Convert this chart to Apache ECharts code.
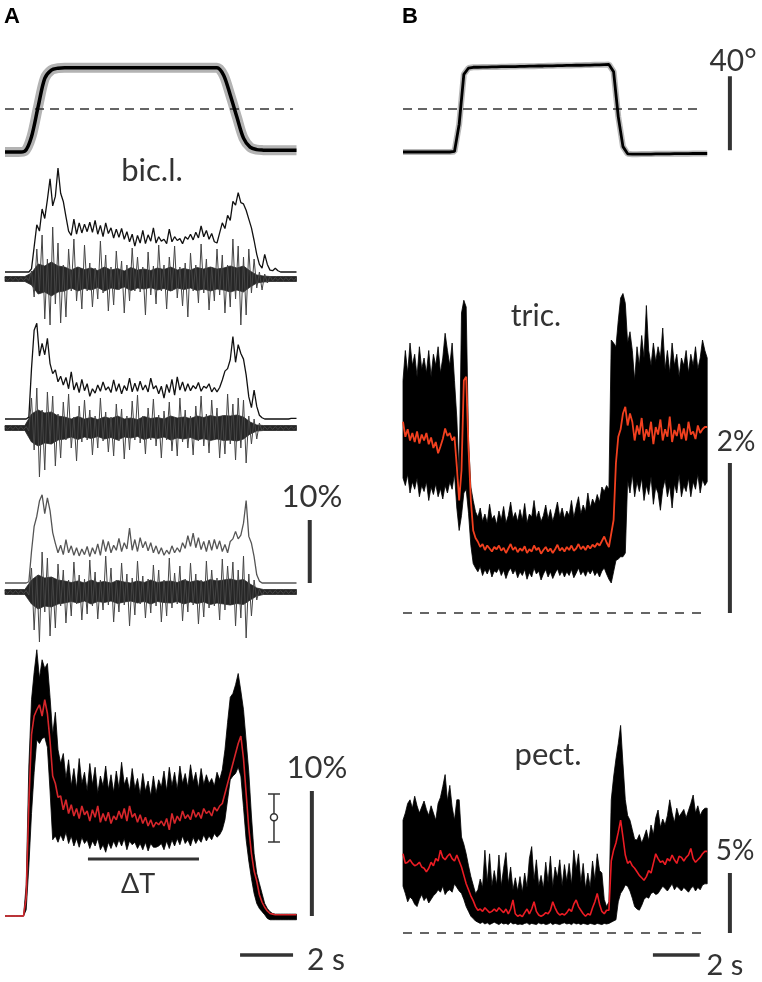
<!DOCTYPE html>
<html><head><meta charset="utf-8">
<script src="https://cdn.jsdelivr.net/npm/echarts@6/dist/echarts.min.js"></script>
<style>html,body{margin:0;padding:0;background:#fff}#c{width:762px;height:982px}</style>
</head><body><div id="c"></div>
<script>
// ---------- DATA (Panel A: bic.l., time step 0.1 s; angle / EMG core step 0.25 s) ----------
const DT_A = 0.1, DT_ANGLE_A = 0.25, DT_CORE_A = 0.25, DT_ANGLE_B = 0.2, DT_B = 0.1;

const angleA = [0,0,0,0.5,8.3,24.5,39.8,44.3,45.3,
45.6,45.6,45.6,45.6,45.6,45.6,45.6,45.6,45.6,45.6,45.6,45.6,45.6,45.6,45.6,45.6,45.6,45.6,45.6,45.6,45.6,45.6,45.6,45.6,
41.5,30.8,18.9,7.5,2.6,1.3,1.0,0.9,0.9,0.9,0.9,0.9];
const angleThresholdA = 23.2;

const envA1 = [0,0,0,0,0,0,0,0,0,0,
0.5,4.0,7.5,6.5,10.0,8.5,11.5,14.8,10.5,12.0,
16.5,12.5,11.2,8.8,6.5,5.8,8.4,6.0,7.8,6.2,
7.6,6.4,7.9,6.3,8.2,6.0,7.4,5.6,7.8,6.1,
7.0,5.4,6.8,5.5,6.9,5.2,6.4,4.8,6.0,4.1,
5.8,4.6,6.6,4.5,5.9,4.9,7.0,4.6,5.6,4.9,
5.2,4.5,6.8,4.8,5.6,5.0,5.3,4.5,5.6,5.2,
6.0,5.1,6.3,5.4,7.3,5.6,6.6,5.2,6.1,4.8,
4.6,6.2,7.8,6.9,9.0,8.2,11.2,10.6,12.6,11.0,
10.8,9.8,8.4,7.0,5.0,2.8,1.2,0.6,2.8,1.2,
0.3,0.2,0.6,0.2,0,0,0,0,0,0,0];
const rawA1 = [1.5,-1.5,1.5,-1.5,1.5,-1.5,1.5,-1.5,1.5,-1.5,
8,-18,30,-12,44,-40,20,-46,52,-25,
36,-44,14,-38,30,-12,40,-22,12,-30,
34,-12,16,-28,11,-20,38,-14,24,-32,
12,-26,28,-11,18,-34,14,-22,31,-12,
22,-13,12,-36,27,-16,13,-25,34,-12,
14,-30,22,-12,33,-19,12,-27,16,-38,
26,-12,14,-24,35,-14,20,-31,12,-22,
30,-16,24,-34,14,-28,40,-20,33,-46,
22,-36,30,-14,20,-9,7,-11,5,-4,
3,-2,1.5,-1.5,1.5,-1.5,1.5,-1.5,1.5,-1.5,1.5];
const coreA1 = [2.5,2.5,2.5,2.5, 6,15,13,17,13,12,
9,12,9.5,11,8.5,12,9,10.5,8,11.5,9,10,8.5,11,9.5,12,9,10.5,9,11.5,10,12,10,
11,13,11,13,8,4,3, 2.5,2.5,2.5,2.5,2.5];

const envA2 = [0,0,0,0,0,0,0,0,0,0.3,
8.0,14.1,15.2,10.0,12.0,10.2,12.8,8.8,7.2,7.8,
5.9,6.8,5.4,6.6,4.8,7.5,4.6,5.8,4.2,6.3,
4.5,5.6,3.6,4.8,4.1,5.4,4.4,5.9,4.6,5.1,
4.2,6.2,4.4,5.6,4.0,5.3,4.5,6.5,4.3,5.7,
4.4,6.0,4.6,5.4,4.3,6.5,4.8,5.3,4.0,5.2,
3.3,5.5,4.2,6.3,3.8,6.7,4.6,5.9,4.4,5.6,
4.5,5.3,4.8,5.8,4.4,5.2,4.9,5.6,4.3,5.0,
4.3,5.0,6.2,7.6,8.0,9.4,13.1,9.0,11.8,10.4,
9.5,7.0,3.5,1.8,4.6,2.0,0.6,0.2,0,0,
0,0,0,0,0,0,0,0,0.1,0.1,0.1];
const rawA2 = [1.5,-1.5,1.5,-1.5,1.5,-1.5,1.5,-1.5,1.5,-3,
30,-22,40,-49,18,-42,36,-15,32,-38,
14,-30,26,-12,34,-20,11,-33,22,-14,
28,-12,18,-27,12,-20,30,-13,16,-24,
11,-28,24,-13,19,-31,12,-22,27,-12,
33,-15,12,-26,20,-12,29,-18,13,-30,
17,-12,26,-23,11,-28,30,-14,18,-20,
12,-27,22,-13,32,-18,14,-25,28,-12,
20,-30,12,-26,34,-16,24,-32,30,-20,
28,-35,12,-16,9,-11,5,-3,1.5,-1.5,
1.5,-1.5,1.5,-1.5,1.5,-1.5,1.5,-1.5,1.5,-1.5,1.5];
const coreA2 = [2.5,2.5,2.5,2.5, 14,18,15,16,12,11,
9,11.5,9,10.5,8.5,11,9.5,12,9,10,8.5,11.5,9.5,10.5,9,12,10,11,9.5,12,10.5,12.5,11,
12.5,12,13,11,6,3,2.5, 2.5,2.5,2.5,2.5,2.5];

const envA3 = [0,0,0,0,0,0,0,0,0,0.2,
5.0,9.0,10.6,13.0,14.0,11.0,13.5,11.5,8.0,6.3,
4.8,6.0,4.5,6.9,4.8,5.9,4.4,5.6,4.3,5.4,
4.5,5.8,4.2,5.6,4.6,6.2,4.4,6.9,5.0,6.6,
4.8,6.0,5.2,7.1,5.0,6.4,5.4,8.7,5.2,6.9,
5.0,7.2,5.6,6.6,5.1,6.4,4.8,5.9,4.6,5.6,
4.4,5.2,4.6,5.9,4.8,5.6,4.9,6.4,5.5,7.5,
5.8,7.9,5.6,7.2,5.3,6.6,5.0,6.8,5.2,6.9,
5.4,6.7,5.0,6.1,4.8,6.6,7.0,8.2,7.0,7.6,
9.5,13.1,7.4,6.3,4.2,1.3,0.3,0,0,0,
0,0,0,0,0,0,0,0,0,0,0];
const rawA3 = [1.5,-1.5,1.5,-1.5,1.5,-1.5,1.5,-1.5,1.5,-3,
24,-38,16,-50,40,-20,34,-44,14,-36,
28,-14,22,-31,12,-24,30,-12,17,-28,
13,-22,32,-14,20,-27,12,-18,36,-13,
24,-30,12,-20,29,-13,18,-34,14,-23,
31,-12,16,-26,13,-21,27,-14,22,-30,
12,-24,34,-16,19,-12,26,-29,13,-20,
29,-13,18,-32,12,-25,31,-16,22,-14,
14,-28,33,-18,26,-12,30,-34,22,-26,
36,-46,18,-24,12,-8,3,-3,1.5,-1.5,
1.5,-1.5,1.5,-1.5,1.5,-1.5,1.5,-1.5,1.5,-1.5,1.5];
const coreA3 = [2.5,2.5,2.5,2.5, 12,17,14,15,12,11,
9.5,11,9,12,9.5,10.5,9,11.5,10,9,11,9.5,12,9.5,10.5,11,9.5,12,10,11.5,10,12.5,11,
12,13,11.5,12.5,8,4,2.5, 2.5,2.5,2.5,2.5,2.5];

const avgMeanA = [0,0,0,0,0,0,0,0,1.5,9.0,
14.5,16.0,16.5,16.9,16.0,17.3,16.2,14.0,11.2,10.6,
9.5,9.6,8.5,9.3,8.2,8.9,8.0,8.6,7.8,8.8,
8.1,8.4,7.6,8.5,7.9,8.8,7.5,8.2,7.6,8.3,
7.4,8.0,7.7,8.4,7.8,8.6,7.6,8.8,7.9,8.2,
7.5,8.1,7.4,7.9,7.2,7.7,7.1,7.5,7.3,7.6,
7.2,7.8,6.9,8.2,7.4,8.0,7.6,8.4,7.8,8.1,
7.7,8.5,7.9,8.3,7.8,8.6,8.2,8.4,8.0,8.7,
8.4,8.8,9.0,9.8,10.6,11.4,12.2,13.0,13.8,14.4,
12.6,9.8,7.0,5.0,3.6,2.8,1.7,1.1,0.7,0.4,
0.2,0.15,0.1,0.1,0.1,0.1,0.1,0.1,0.1,0.1,0.1];
const avgUpperA = [0,0,0,0,0,0,0,0,2.5,12.0,
17.3,19.5,21.3,19.0,20.5,19.8,20.2,17.5,14.5,16.3,
13.3,12.2,13.0,11.0,12.5,10.4,11.8,10.2,12.6,10.6,
11.5,10.0,12.2,10.5,11.9,9.8,11.2,10.4,12.0,10.1,
11.3,9.9,11.6,10.2,12.3,10.5,11.1,10.0,11.8,10.2,
11.0,9.7,11.4,10.0,10.8,9.6,11.2,9.8,10.9,10.3,
11.6,10.0,11.9,10.4,11.5,10.1,12.0,10.6,11.4,10.3,
12.1,10.7,11.5,10.2,11.8,10.5,11.3,10.6,11.0,10.4,
11.5,10.9,11.7,13.3,15.5,17.5,17.8,18.5,19.4,18.0,
16.5,14.0,11.5,8.0,5.0,3.4,2.6,1.8,1.0,0.6,
0.35,0.2,0.15,0.15,0.15,0.15,0.15,0.15,0.15,0.15,0.15];
const avgLowerA = [0,0,0,0,0,0,0,0,0.5,4.0,
8.2,11.5,14.1,13.8,14.2,14.3,13.5,10.0,6.1,6.4,
5.9,6.5,6.0,6.7,5.8,6.4,5.6,6.2,5.5,6.3,
5.8,6.1,5.4,6.0,5.6,6.2,5.3,5.7,5.1,5.9,
5.4,6.0,5.5,6.1,5.6,6.2,5.3,6.0,5.7,5.9,
5.4,5.8,5.3,5.9,5.2,5.8,5.5,5.5,5.6,5.8,
5.3,6.0,5.4,6.1,5.6,6.2,5.7,6.4,5.8,6.1,
5.6,6.3,5.8,6.2,5.9,6.5,6.0,6.4,6.1,6.6,
6.3,6.5,6.9,7.7,9.3,10.9,11.2,11.4,11.9,11.2,
8.7,6.1,4.4,3.0,1.8,1.0,0.6,0.35,0.1,-0.2,
-0.3,-0.3,-0.3,-0.3,-0.3,-0.3,-0.3,-0.3,-0.3,-0.3,-0.3];
// mean ± sd marker (time s, mean %, low %, high %)
const errBarA = [10.15, 7.9, 5.92, 9.76];
const deltaT_A = [3.13, 7.32];   // ΔT window (s)

// ---------- DATA (Panel B) ----------
const angleB = [0,0,0,0,0,0,0,0,0,0,0,0.3,
15,42,45.4,
45.8,45.8,45.9,45.9,46.0,46.0,46.1,46.1,46.2,46.2,46.3,46.3,46.4,46.4,46.5,46.5,46.6,46.6,46.7,46.7,46.8,46.8,46.9,46.9,47.0,47.0,47.1,47.1,47.2,47.3,
43.4,19,2.9,
-1.0,-1.2,-1.2,-1.1,-1.1,-1.1,-1.0,-1.0,-1.0,-1.0,-0.9,-0.9,-0.9,-0.9,-0.8,-0.8,-0.8,-0.8];
const angleThresholdB = 23.2;

const tricMean = [2.55,2.35,2.45,2.30,2.40,2.28,2.42,2.26,2.38,2.30,
2.40,2.25,2.34,2.20,2.28,2.13,2.22,2.32,2.46,2.36,
2.40,2.30,2.35,1.95,1.50,1.90,3.10,3.15,2.20,1.50,
1.10,1.00,0.95,0.88,0.92,0.84,0.90,0.86,0.82,0.88,
0.85,0.90,0.83,0.87,0.80,0.86,0.92,0.84,0.88,0.81,
0.86,0.83,0.89,0.80,0.85,0.82,0.90,0.84,0.87,0.79,
0.84,0.88,0.82,0.86,0.80,0.85,0.91,0.83,0.87,0.82,
0.88,0.84,0.90,0.83,0.86,0.92,0.85,0.89,0.84,0.90,
0.86,0.91,0.88,0.93,0.90,0.96,1.02,0.94,0.88,1.06,
1.24,2.00,2.35,2.45,2.66,2.75,2.50,2.66,2.55,2.30,
2.50,2.38,2.60,2.30,2.45,2.35,2.55,2.25,2.48,2.38,
2.58,2.30,2.45,2.35,2.62,2.28,2.44,2.36,2.52,2.32,
2.46,2.30,2.55,2.38,2.42,2.32,2.50,2.40,2.45,2.48,2.48];
const tricUpper = [3.10,3.50,3.20,3.60,3.30,3.45,3.15,3.55,3.25,3.40,
3.20,3.50,3.15,3.45,3.30,3.55,3.20,3.40,3.73,3.50,
3.30,3.60,3.10,2.60,1.80,4.00,4.17,4.08,2.30,1.68,
1.50,1.35,1.28,1.40,1.22,1.32,1.20,1.45,1.25,1.30,
1.18,1.36,1.24,1.42,1.20,1.30,1.48,1.26,1.34,1.22,
1.38,1.24,1.46,1.20,1.32,1.28,1.50,1.26,1.36,1.22,
1.30,1.44,1.25,1.38,1.22,1.34,1.48,1.28,1.40,1.26,
1.36,1.30,1.50,1.27,1.42,1.55,1.32,1.44,1.35,1.60,
1.40,1.52,1.45,1.58,1.48,1.68,1.62,1.70,1.65,3.64,
3.60,3.55,3.90,4.20,4.26,4.13,3.60,3.75,3.50,3.10,
3.55,3.30,3.70,3.40,4.10,3.50,3.30,3.60,3.35,3.55,
3.40,3.80,3.25,3.50,3.20,3.60,3.30,3.45,3.15,3.40,
3.30,3.50,3.20,3.45,3.30,3.55,3.25,3.40,3.64,3.50,3.40];
const tricLower = [1.80,1.70,1.85,1.60,1.75,1.65,1.80,1.55,1.70,1.62,
1.75,1.50,1.68,1.58,1.72,1.55,1.66,1.52,1.70,1.60,
1.75,1.65,1.86,1.40,1.10,1.30,1.60,1.65,1.33,0.90,
0.66,0.60,0.55,0.62,0.50,0.58,0.52,0.60,0.48,0.56,
0.54,0.60,0.50,0.57,0.46,0.55,0.60,0.52,0.58,0.47,
0.55,0.50,0.58,0.45,0.54,0.48,0.60,0.52,0.56,0.44,
0.52,0.58,0.48,0.55,0.46,0.53,0.59,0.50,0.56,0.48,
0.55,0.50,0.58,0.47,0.53,0.60,0.51,0.56,0.49,0.57,
0.52,0.58,0.50,0.55,0.48,0.56,0.60,0.52,0.45,0.40,
0.55,0.70,0.72,0.75,0.75,0.80,1.77,1.60,1.85,1.55,
1.75,1.62,1.80,1.50,1.70,1.58,1.82,1.45,1.68,1.60,
1.37,1.65,1.78,1.55,1.70,1.40,1.72,1.60,1.85,1.55,
1.70,1.62,1.80,1.55,1.75,1.65,1.85,1.60,1.78,1.70,1.75];

const pectMean = [6.6,5.8,5.9,6.1,5.8,5.6,5.7,5.9,5.5,5.4,
5.1,5.4,5.9,5.6,6.2,6.0,6.9,6.3,6.1,6.4,
6.6,6.2,6.0,6.5,6.0,5.5,4.8,4.1,3.6,3.1,
2.7,2.2,1.9,2.0,1.8,2.1,1.9,1.7,1.8,2.0,
1.8,2.1,1.9,1.7,2.0,1.6,2.0,2.75,1.6,1.4,
1.5,1.36,1.7,2.0,1.6,2.0,2.6,1.8,1.5,1.4,
1.5,1.7,1.6,1.9,2.6,2.1,1.7,1.5,1.6,1.5,
1.7,2.0,1.8,2.4,2.75,2.2,1.9,1.6,1.4,1.6,
1.5,2.1,2.6,3.3,2.4,1.8,1.6,1.9,1.9,6.0,
6.9,7.5,8.4,9.4,8.0,6.5,5.8,6.0,5.6,5.4,
5.1,4.8,4.6,4.4,4.7,5.2,5.0,5.8,6.6,6.2,
5.9,6.0,5.7,6.2,6.0,6.5,6.1,5.8,6.4,6.3,
6.0,6.3,6.5,7.05,6.2,5.9,6.1,6.3,6.6,6.8,6.8];
const pectUpper = [9.4,10.0,10.8,11.1,10.4,11.4,10.6,10.0,10.5,11.0,
10.3,9.8,10.6,10.0,9.4,10.8,11.3,12.2,13.2,11.0,
12.3,10.5,9.4,11.1,11.1,8.0,7.4,6.6,5.6,4.7,
4.0,3.3,3.6,4.5,3.8,6.9,4.2,6.6,3.9,5.2,
4.0,6.5,3.9,5.4,6.7,4.1,5.5,3.6,4.6,3.5,
4.7,3.4,5.0,3.8,6.2,7.2,4.4,6.1,3.9,4.8,
3.7,5.9,4.2,6.4,3.8,5.5,4.6,6.1,3.9,5.7,
4.3,5.8,4.0,6.9,5.3,6.6,4.2,5.8,3.7,5.0,
3.8,6.0,4.4,6.6,5.2,5.0,2.8,2.2,2.6,11.1,
13.0,14.5,15.8,17.3,14.1,11.1,9.8,9.4,8.6,7.8,
7.75,8.2,7.5,8.0,8.6,7.7,9.0,8.2,9.6,10.25,
8.8,9.5,9.0,9.8,11.1,10.0,9.2,10.4,9.7,10.0,
10.3,9.6,10.2,10.8,11.5,10.0,10.6,9.8,10.2,10.4,10.4];
const pectLower = [3.9,3.3,2.6,3.0,2.8,2.4,2.2,2.8,3.2,2.7,
3.0,2.5,2.8,3.1,3.3,3.6,3.4,3.9,3.2,3.5,
3.6,3.4,4.1,3.8,3.5,3.3,2.8,2.2,1.8,1.4,
1.2,1.0,0.9,0.8,0.9,0.75,0.85,0.7,0.8,0.9,
0.8,0.7,0.85,0.75,0.8,0.7,0.9,0.75,0.8,0.7,
0.75,0.7,0.8,0.85,0.7,0.8,0.75,0.7,0.85,0.75,
0.8,0.7,0.75,0.85,0.7,0.8,0.75,0.7,0.8,0.85,
0.75,0.8,0.7,0.85,0.75,0.8,0.7,0.8,0.75,0.7,
0.8,0.75,0.7,0.8,0.75,0.7,0.8,0.75,0.8,0.9,
1.0,1.1,2.6,3.3,3.6,4.0,3.9,3.5,2.9,2.2,
2.0,1.9,2.3,2.8,3.0,2.9,3.3,3.4,3.2,3.3,
3.6,3.9,3.7,3.5,3.8,4.1,3.6,3.9,3.7,3.5,
3.8,3.6,3.4,3.7,3.9,3.5,3.8,3.6,4.0,4.1,4.1];

// scale bars (values in each panel's units)
const scaleAngleDeg = 40, scaleEnvA = 10, scaleAvgA = 10, scaleTric = 2, scalePect = 5, scaleTimeS = 2;

// ---------- helpers ----------
function xy(arr, dt){ return arr.map((v,i)=>[+(i*dt).toFixed(3), v]); }

const GA = {x0:5, kx:26.5, tmax:13.2};
const GB = {x0:403, kx:23.4, tmax:15.2};
const G = [
 Object.assign({y0:152, ky:1.85, vmin:-10, vmax:60}, GA), //0 A angle
 Object.assign({y0:272, ky:6.3, vmin:-2, vmax:18}, GA),   //1 env1
 Object.assign({y0:279, ky:1, vmin:-60, vmax:60}, GA),    //2 raw1
 Object.assign({y0:419, ky:6.3, vmin:-2, vmax:18}, GA),   //3 env2
 Object.assign({y0:428, ky:1, vmin:-60, vmax:60}, GA),    //4 raw2
 Object.assign({y0:583, ky:6.3, vmin:-2, vmax:18}, GA),   //5 env3
 Object.assign({y0:592, ky:1, vmin:-60, vmax:60}, GA),    //6 raw3
 Object.assign({y0:916, ky:12.5, vmin:-5, vmax:24}, GA),  //7 avg
 Object.assign({y0:152, ky:1.85, vmin:-10, vmax:60}, GB), //8 B angle
 Object.assign({y0:613, ky:75, vmin:-0.5, vmax:4.5}, GB), //9 tric
 Object.assign({y0:933, ky:12, vmin:-3, vmax:19}, GB)     //10 pect
];
const grids = G.map(g=>({left:g.x0, width:g.kx*g.tmax, top:g.y0-g.ky*g.vmax, height:g.ky*(g.vmax-g.vmin), containLabel:false}));
const xAxes = G.map((g,i)=>({type:'value', gridIndex:i, min:0, max:g.tmax, show:false}));
const yAxes = G.map((g,i)=>({type:'value', gridIndex:i, min:g.vmin, max:g.vmax, show:false}));

const DARK = '#333';
function line(gi, data, color, width, extra){
  return Object.assign({type:'line', xAxisIndex:gi, yAxisIndex:gi, data:data, showSymbol:false, symbol:'none',
    lineStyle:{color:color, width:width}, silent:true, animation:false, z:2}, extra||{});
}
function bar(gi, pts, width){ return line(gi, pts, DARK, width, {z:5}); }
function dashed(gi, pts, dash){ return line(gi, pts, DARK, 1.5, {lineStyle:{color:DARK, width:1.5, type:dash}}); }
// filled band between lower and upper: one polygon through the grid's coordinate system
function band(gi, lower, upper, dt, color, z){
  const data = upper.map((u,i)=>[+(i*dt).toFixed(3), lower[i], u]);
  return {type:'custom', xAxisIndex:gi, yAxisIndex:gi, silent:true, animation:false, z:z||2,
    data:data, encode:{x:0, y:[1,2]},
    renderItem:function(p, api){
      if (p.dataIndex !== 0) return null;
      const n = data.length, pts = [];
      for (let i=0;i<n;i++) pts.push(api.coord([api.value(0,i), api.value(2,i)]));
      for (let i=n-1;i>=0;i--) pts.push(api.coord([api.value(0,i), api.value(1,i)]));
      return {type:'polygon', shape:{points:pts}, style:{fill:color, stroke:color, lineWidth:0.8}};
    }};
}
function neg(a){ return a.map(v=>-v); }

const series = [];
// A angle
series.push(line(0, xy(angleA, DT_ANGLE_A), '#b3b3b3', 10, {smooth:0.3}));
series.push(line(0, xy(angleA, DT_ANGLE_A), '#000', 3.5, {smooth:0.3, z:3}));
series.push(dashed(0, [[0, angleThresholdA],[10.87, angleThresholdA]], [9,6]));
// A single trials: raw EMG (dense core + spikes) and envelope
series.push(band(2, neg(coreA1), coreA1, DT_CORE_A, '#262626'));
series.push(line(2, xy(rawA1, DT_A), '#454545', 1));
series.push(line(1, xy(envA1, DT_A), '#111', 1.3, {z:3}));
series.push(band(4, neg(coreA2), coreA2, DT_CORE_A, '#262626'));
series.push(line(4, xy(rawA2, DT_A), '#454545', 1));
series.push(line(3, xy(envA2, DT_A), '#111', 1.3, {z:3}));
series.push(band(6, neg(coreA3), coreA3, DT_CORE_A, '#262626'));
series.push(line(6, xy(rawA3, DT_A), '#454545', 1));
series.push(line(5, xy(envA3, DT_A), '#555', 1.3, {z:3}));
series.push(bar(5, [[11.5,0],[11.5,scaleEnvA]], 4));
// A average
series.push(band(7, avgLowerA, avgUpperA, DT_A, '#000'));
series.push(line(7, xy(avgMeanA, DT_A), '#d7262b', 1.6, {z:4}));
series.push(bar(7, [[11.58,0],[11.58,scaleAvgA]], 4));
series.push(bar(7, [[deltaT_A[0],4.56],[deltaT_A[1],4.56]], 3));
series.push(bar(7, [[8.87,-3.12],[8.87+scaleTimeS,-3.12]], 3.5));
series.push({type:'custom', xAxisIndex:7, yAxisIndex:7, silent:true, animation:false, z:5,
  data:[errBarA],
  renderItem:function(p, api){
    const t=api.value(0), m=api.value(1), lo=api.value(2), hi=api.value(3);
    const c=api.coord([t,m]), a=api.coord([t,lo]), b=api.coord([t,hi]);
    const st={stroke:DARK, lineWidth:1.5};
    return {type:'group', children:[
      {type:'line', shape:{x1:a[0],y1:a[1],x2:b[0],y2:b[1]}, style:st},
      {type:'line', shape:{x1:a[0]-6,y1:a[1],x2:a[0]+6,y2:a[1]}, style:st},
      {type:'line', shape:{x1:b[0]-6,y1:b[1],x2:b[0]+6,y2:b[1]}, style:st},
      {type:'circle', shape:{cx:c[0],cy:c[1],r:3.5}, style:{fill:'#fff', stroke:DARK, lineWidth:1.5}}
    ]};
  }});
// B angle
series.push(line(8, xy(angleB, DT_ANGLE_B), '#b8b8b8', 6));
series.push(line(8, xy(angleB, DT_ANGLE_B), '#000', 2.8, {z:3}));
series.push(dashed(8, [[0, angleThresholdB],[12.7, angleThresholdB]], [9,6]));
series.push(bar(8, [[13.97,1],[13.97,1+scaleAngleDeg]], 4));
// B tric
series.push(band(9, tricLower, tricUpper, DT_B, '#000'));
series.push(line(9, xy(tricMean, DT_B), '#f2401f', 1.8, {z:4}));
series.push(dashed(9, [[0,0],[12.9,0]], [9,8]));
series.push(bar(9, [[13.97,0],[13.97,scaleTric]], 4));
// B pect
series.push(band(10, pectLower, pectUpper, DT_B, '#000'));
series.push(line(10, xy(pectMean, DT_B), '#ec1c24', 1.6, {z:4}));
series.push(dashed(10, [[0,0],[12.9,0]], [9,8]));
series.push(bar(10, [[13.97,0],[13.97,scalePect]], 4));
series.push(bar(10, [[10.68,-1.83],[10.68+scaleTimeS,-1.83]], 3.5));

const FONT = 'Lato, "Open Sans", sans-serif';
function txt(s, x, y, size){
  return {type:'text', x:x, y:y, silent:true, z:10,
    style:{text:s, font:size+'px '+FONT, fill:DARK, textAlign:'center', textVerticalAlign:'middle', align:'center', verticalAlign:'middle'}};
}
function bold(s, x, y){
  return {type:'text', x:x, y:y, silent:true, z:10,
    style:{text:s, font:'bold 22px "Liberation Sans", Arial, sans-serif', fill:'#000', textAlign:'center', textVerticalAlign:'middle', align:'center', verticalAlign:'middle'}};
}
const graphics = [
  bold('A', 12, 17), bold('B', 410, 17),
  txt('bic.l.', 152, 171, 31),
  txt('tric.', 536, 316, 30),
  txt('pect.', 548, 755, 31),
  txt('10%', 312, 497, 31),
  txt('10%', 317, 768, 31),
  txt('\u0394T', 138, 884, 27),
  txt('2 s', 326, 960, 30),
  txt('40\u00b0', 733, 61, 30),
  txt('2%', 736, 442, 28),
  txt('5%', 735, 851, 28),
  txt('2 s', 725, 966, 29)
];

const chart = echarts.init(document.getElementById('c'), null, {renderer:'canvas'});
chart.setOption({
  animation:false,
  backgroundColor:'#fff',
  grid:grids, xAxis:xAxes, yAxis:yAxes,
  series:series,
  graphic:graphics
});
</script></body></html>
